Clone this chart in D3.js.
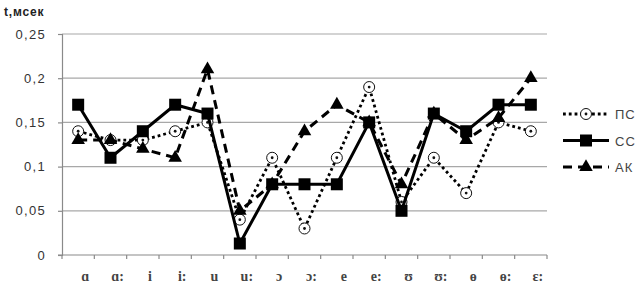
<!DOCTYPE html>
<html>
<head>
<meta charset="utf-8">
<script src="https://cdn.jsdelivr.net/npm/d3@7"></script>
<style>
  body { margin: 0; background: #fff; }
  svg { display: block; }
</style>
</head>
<body>
<svg id="chart"></svg>
<script>
// vowels on the x axis
const categories = ["ɑ", "ɑ:", "i", "i:", "u", "u:", "ɔ", "ɔ:", "e", "e:", "ʊ", "ʊ:", "ɵ", "ɵ:", "ɛ:"];
const seriesNames = ["ПС", "СС", "АК"];
const valuesPS = [0.14, 0.13, 0.13, 0.14, 0.15, 0.04, 0.11, 0.03, 0.11, 0.19, 0.06, 0.11, 0.07, 0.15, 0.14];
const valuesSS = [0.17, 0.11, 0.14, 0.17, 0.16, 0.013, 0.08, 0.08, 0.08, 0.15, 0.05, 0.16, 0.14, 0.17, 0.17];
const valuesAK = [0.13, 0.13, 0.12, 0.11, 0.21, 0.05, 0.08, 0.14, 0.17, 0.15, 0.08, 0.16, 0.13, 0.155, 0.20];
const yTicks = [0, 0.05, 0.1, 0.15, 0.2, 0.25];
const yTitle = "t,мсек";

const width = 642, height = 294;
const plot = { left: 62, right: 547, top: 34, bottom: 255 };

const svg = d3.select("#chart").attr("width", width).attr("height", height);

const x = d3.scaleBand().domain(categories).range([plot.left, plot.right]).padding(0);
const y = d3.scaleLinear().domain([0, 0.25]).range([plot.bottom, plot.top]);
const cx = d => x(d) + x.bandwidth() / 2;

// gridlines
svg.append("g")
  .selectAll("line")
  .data(yTicks.filter(d => d > 0))
  .enter().append("line")
  .attr("x1", plot.left).attr("x2", plot.right)
  .attr("y1", d => y(d)).attr("y2", d => y(d))
  .attr("stroke", "#a8a8a8").attr("stroke-width", 1.2);

// y axis
const yAxis = svg.append("g")
  .attr("transform", `translate(${plot.left},0)`)
  .call(d3.axisLeft(y).tickValues(yTicks).tickSize(4).tickPadding(12)
    .tickFormat(d => String(+d.toFixed(2)).replace(".", ",")));
yAxis.select(".domain").attr("stroke", "#8a8a8a").attr("stroke-width", 1.2);
yAxis.selectAll(".tick line").attr("stroke", "#8a8a8a").attr("stroke-width", 1.2);
yAxis.selectAll(".tick text")
  .attr("fill", "#333").style("font-family", "'Liberation Sans', Arial, sans-serif")
  .style("font-size", "13px").style("letter-spacing", "1.3px");

// x axis: line, ticks at band edges, labels at centres
const xAxis = svg.append("g");
xAxis.append("line")
  .attr("x1", plot.left - 4).attr("x2", plot.right)
  .attr("y1", y(0)).attr("y2", y(0))
  .attr("stroke", "#8a8a8a").attr("stroke-width", 1.2);
xAxis.selectAll(".xtick")
  .data(categories.map(c => x(c)).concat([x.range()[1]]))
  .enter().append("line")
  .attr("class", "xtick")
  .attr("x1", d => d).attr("x2", d => d)
  .attr("y1", y(0)).attr("y2", y(0) + 4)
  .attr("stroke", "#8a8a8a").attr("stroke-width", 1.2);
xAxis.selectAll(".xlabel")
  .data(categories)
  .enter().append("text")
  .attr("class", "xlabel")
  .attr("x", d => cx(d))
  .attr("dx", 7)
  .attr("y", y(0) + 26)
  .attr("text-anchor", "middle")
  .attr("fill", "#444")
  .style("font-family", "'Liberation Serif', 'DejaVu Serif', serif")
  .style("font-size", "14px")
  .style("font-weight", "bold")
  .text(d => d);

// title
svg.append("text")
  .attr("x", 4).attr("y", 16)
  .attr("fill", "#222")
  .style("font-family", "'Liberation Sans', Arial, sans-serif")
  .style("font-size", "12px").style("font-weight", "bold")
  .style("letter-spacing", "0.8px")
  .text(yTitle);

const series = [
  { name: seriesNames[0], values: valuesPS, dash: "2.8,3", width: 2.8, marker: "circle" },
  { name: seriesNames[1], values: valuesSS, dash: null, width: 3, marker: "square" },
  { name: seriesNames[2], values: valuesAK, dash: "9,6", width: 3, marker: "triangle" }
];

const line = d3.line().x((d, i) => cx(categories[i])).y(d => y(d));

function drawMarker(g, type) {
  if (type === "circle") {
    g.append("circle").attr("r", 5.5).attr("fill", "#fff").attr("stroke", "#111").attr("stroke-width", 1);
    g.append("circle").attr("r", 1.4).attr("fill", "#111");
  } else if (type === "square") {
    g.append("rect").attr("x", -6).attr("y", -6).attr("width", 12).attr("height", 12).attr("fill", "#000");
  } else {
    g.append("path").attr("d", d3.symbol().type(d3.symbolTriangle).size(80)()).attr("fill", "#000");
  }
}

series.forEach(s => {
  const g = svg.append("g");
  g.append("path")
    .datum(s.values)
    .attr("d", line)
    .attr("fill", "none")
    .attr("stroke", "#000")
    .attr("stroke-width", s.width)
    .attr("stroke-dasharray", s.dash);
  g.selectAll(".pt")
    .data(s.values)
    .enter().append("g")
    .attr("class", "pt")
    .attr("transform", (d, i) => `translate(${cx(categories[i])},${y(d)})`)
    .each(function() { drawMarker(d3.select(this), s.marker); });
});

// legend
const legendY = d3.scalePoint().domain(seriesNames).range([114, 167]);
const leg = svg.append("g");
series.forEach(s => {
  const g = leg.append("g").attr("transform", `translate(0,${legendY(s.name)})`);
  g.append("line")
    .attr("x1", 563).attr("x2", 609)
    .attr("stroke", "#000").attr("stroke-width", s.width)
    .attr("stroke-dasharray", s.dash);
  const m = g.append("g").attr("transform", "translate(586,0)");
  drawMarker(m, s.marker);
  g.append("text")
    .attr("x", 615).attr("y", 5)
    .attr("fill", "#444")
    .style("font-family", "'Liberation Sans', Arial, sans-serif")
    .style("font-size", "13px").style("letter-spacing", "1px")
    .text(s.name);
});
</script>
</body>
</html>
